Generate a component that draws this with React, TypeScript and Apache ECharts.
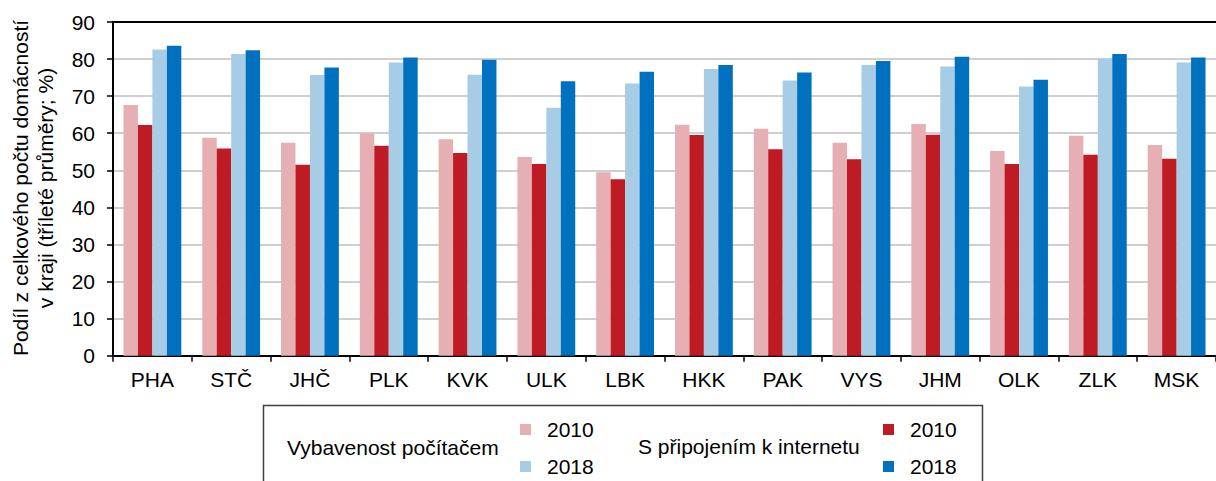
import React, { useEffect, useRef } from "react";
import * as echarts from "echarts";

const categories = ["PHA", "STČ", "JHČ", "PLK", "KVK", "ULK", "LBK", "HKK", "PAK", "VYS", "JHM", "OLK", "ZLK", "MSK"];
const pc2010 = [67.6, 58.8, 57.4, 60.0, 58.4, 53.6, 49.5, 62.3, 61.2, 57.4, 62.5, 55.2, 59.3, 56.8];
const net2010 = [62.2, 55.9, 51.5, 56.6, 54.7, 51.7, 47.6, 59.5, 55.7, 53.0, 59.6, 51.7, 54.2, 53.1];
const pc2018 = [82.6, 81.4, 75.7, 79.1, 75.8, 66.9, 73.4, 77.3, 74.2, 78.4, 78.0, 72.6, 80.1, 79.1];
const net2018 = [83.6, 82.4, 77.7, 80.4, 79.8, 74.0, 76.6, 78.4, 76.4, 79.5, 80.6, 74.4, 81.4, 80.4];
const yTicks = { min: 0, max: 90, interval: 10 };

const groupPc = "Vybavenost počítačem";
const groupNet = "S připojením k internetu";
const yTitle = "Podíl z celkového počtu domácností\nv kraji (tříleté průměry; %)";

const FONT = "Liberation Sans, Arial, Helvetica, sans-serif";
const FS = 21;
const C_PINK = "#E6AFB3";
const C_RED = "#BE1B24";
const C_LBLUE = "#A7CCE6";
const C_BLUE = "#0070BF";

export default function App() {
  const ref = useRef<HTMLDivElement>(null);
  useEffect(() => {
    document.body.style.margin = "0";
    const chart = echarts.init(ref.current!, null, { renderer: "svg" });
    const mk = (name: string, data: number[], color: string) => ({
      name,
      type: "bar",
      data,
      barGap: "0%",
      barCategoryGap: "26.6%",
      itemStyle: { color },
    });
    const legendCommon = {
      orient: "vertical",
      icon: "rect",
      itemWidth: 11,
      itemHeight: 11,
      itemGap: 16,
      padding: 0,
      selectedMode: false,
      textStyle: { fontFamily: FONT, fontSize: FS, color: "#000", padding: [0, 0, 0, 11] },
      formatter: (n: string) => n.slice(-4),
    };
    chart.setOption({
      animation: false,
      textStyle: { fontFamily: FONT },
      grid: { left: 113, right: -11, top: 22, bottom: 125.3 },
      xAxis: [
        {
          type: "category",
          data: categories,
          position: "bottom",
          axisLine: { lineStyle: { color: "#000", width: 2 } },
          axisTick: { show: true, length: 6, lineStyle: { color: "#000", width: 1.5 } },
          axisLabel: { color: "#000", fontSize: FS, fontFamily: FONT, margin: 13, interval: 0 },
        },
        {
          type: "category",
          data: categories,
          position: "top",
          axisLine: { show: true, lineStyle: { color: "#000", width: 2 } },
          axisTick: { show: false },
          axisLabel: { show: false },
        },
      ],
      yAxis: {
        type: "value",
        min: yTicks.min,
        max: yTicks.max,
        interval: yTicks.interval,
        axisLine: { show: true, lineStyle: { color: "#000", width: 2 } },
        axisTick: { show: true, length: 6, lineStyle: { color: "#000", width: 1.5 } },
        axisLabel: { color: "#000", fontSize: FS, fontFamily: FONT, margin: 18 },
        splitLine: { lineStyle: { color: "#BFBFBF", width: 1.5 } },
      },
      legend: [
        { ...legendCommon, left: 520, top: 419, data: [groupPc + " 2010", groupPc + " 2018"] },
        { ...legendCommon, left: 883, top: 419, data: [groupNet + " 2010", groupNet + " 2018"] },
      ],
      graphic: [
        {
          type: "text",
          x: 33,
          y: 188,
          rotation: Math.PI / 2,
          style: {
            text: yTitle,
            fontFamily: FONT,
            fontSize: FS,
            lineHeight: 25,
            fill: "#000",
            align: "center",
            verticalAlign: "middle",
          },
        },
        {
          type: "rect",
          shape: { x: 263.5, y: 405.5, width: 719, height: 100 },
          style: { fill: "none", stroke: "#404040", lineWidth: 1.5 },
        },
        {
          type: "text",
          x: 287,
          y: 447,
          style: { text: groupPc, fontFamily: FONT, fontSize: FS, fill: "#000", verticalAlign: "middle" },
        },
        {
          type: "text",
          x: 638,
          y: 446,
          style: { text: groupNet, fontFamily: FONT, fontSize: FS, fill: "#000", verticalAlign: "middle" },
        },
      ],
      series: [
        mk(groupPc + " 2010", pc2010, C_PINK),
        mk(groupNet + " 2010", net2010, C_RED),
        mk(groupPc + " 2018", pc2018, C_LBLUE),
        mk(groupNet + " 2018", net2018, C_BLUE),
      ],
    });
    return () => chart.dispose();
  }, []);
  return <div ref={ref} style={{ width: 1216, height: 481 }} />;
}
